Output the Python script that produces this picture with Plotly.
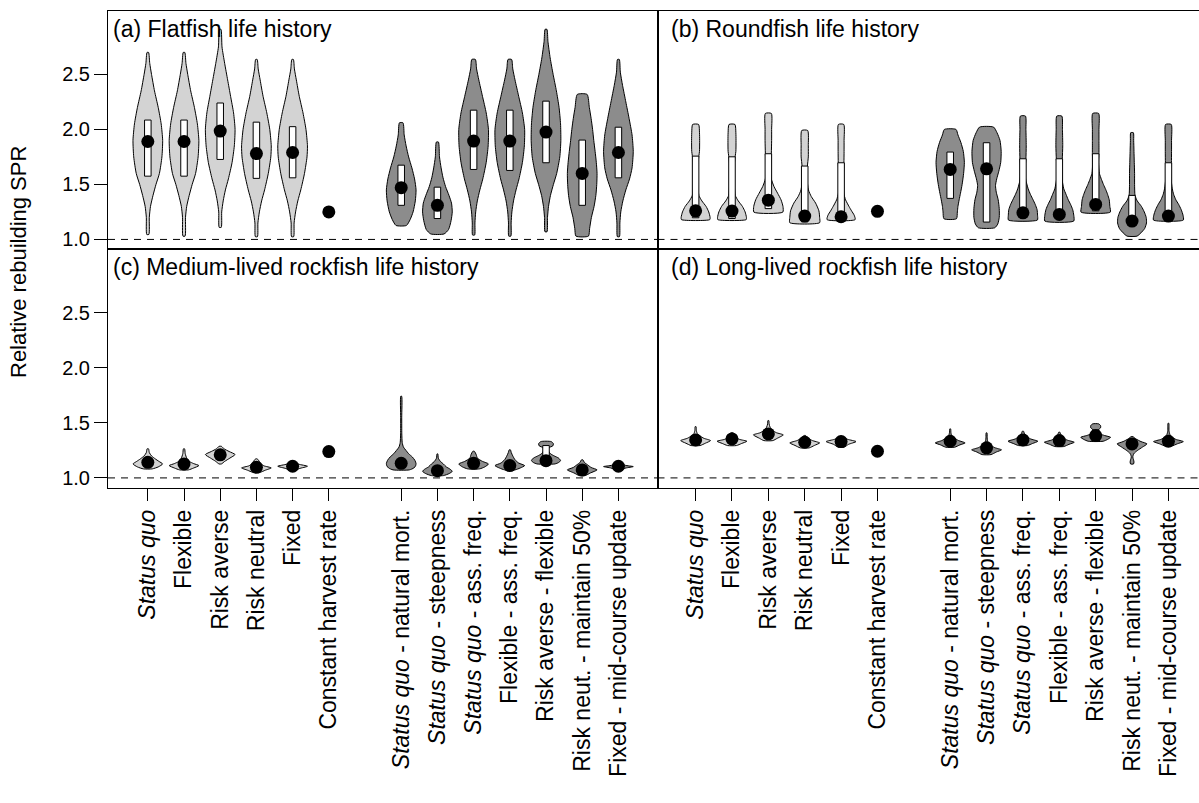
import plotly.graph_objects as go

# ---------------- data ----------------
POSITIONS = [1, 2, 3, 4, 5, 6, 8, 9, 10, 11, 12, 13, 14]
LABELS = ["<i>Status quo</i>", "Flexible", "Risk averse", "Risk neutral", "Fixed",
          "Constant harvest rate", "<i>Status quo</i> - natural mort.",
          "<i>Status quo</i> - steepness", "<i>Status quo</i> - ass. freq.",
          "Flexible - ass. freq.", "Risk averse - flexible",
          "Risk neut. - maintain 50%", "Fixed - mid-course update"]
GROUP = ["light"] * 5 + ["dot"] + ["dark"] * 7
PANEL_TITLES = ["(a) Flatfish life history", "(b) Roundfish life history",
                "(c) Medium-lived rockfish life history", "(d) Long-lived rockfish life history"]
Y_TICKS = [1.0, 1.5, 2.0, 2.5]
Y_TICK_TEXT = ["1.0", "1.5", "2.0", "2.5"]
Y_TITLE = "Relative rebuilding SPR"
REFERENCE_LEVEL = 1.0

# (a) Flatfish
A_MED = [1.89, 1.89, 1.985, 1.78, 1.79, 1.25, 1.47, 1.31, 1.894, 1.894, 1.976, 1.60, 1.79]
A_Q1 = [1.575, 1.575, 1.727, 1.555, 1.56, None, 1.31, 1.19, 1.636, 1.627, 1.697, 1.31, 1.56]
A_Q3 = [2.085, 2.085, 2.24, 2.066, 2.025, None, 1.675, 1.475, 2.175, 2.175, 2.257, 1.903, 2.02]
A_DENS_Y = [
    [1.045, 1.2, 1.3, 1.4, 1.5, 1.6, 1.75, 1.9, 2.05, 2.2, 2.35, 2.5, 2.6, 2.7],
    [1.03, 1.2, 1.3, 1.4, 1.5, 1.6, 1.75, 1.9, 2.05, 2.2, 2.35, 2.5, 2.6, 2.7],
    [1.11, 1.25, 1.35, 1.45, 1.55, 1.7, 1.85, 2.0, 2.15, 2.3, 2.45, 2.6, 2.75, 2.91],
    [1.025, 1.15, 1.25, 1.35, 1.45, 1.6, 1.75, 1.85, 2.0, 2.15, 2.3, 2.45, 2.55, 2.636],
    [1.025, 1.15, 1.25, 1.35, 1.45, 1.6, 1.75, 1.85, 2.0, 2.15, 2.3, 2.45, 2.55, 2.636],
    None,
    [1.127, 1.18, 1.25, 1.35, 1.45, 1.55, 1.65, 1.75, 1.85, 1.95, 2.06],
    [1.05, 1.09, 1.17, 1.25, 1.33, 1.4, 1.48, 1.56, 1.65, 1.75, 1.885],
    [1.04, 1.15, 1.25, 1.35, 1.45, 1.55, 1.7, 1.85, 2.0, 2.15, 2.3, 2.45, 2.55, 2.636],
    [1.03, 1.15, 1.25, 1.35, 1.45, 1.55, 1.7, 1.85, 2.0, 2.15, 2.3, 2.45, 2.55, 2.636],
    [1.07, 1.2, 1.3, 1.4, 1.5, 1.6, 1.75, 1.9, 2.05, 2.2, 2.35, 2.5, 2.65, 2.8, 2.91],
    [1.03, 1.1, 1.2, 1.3, 1.4, 1.5, 1.6, 1.7, 1.8, 1.9, 2.0, 2.1, 2.2, 2.318],
    [1.025, 1.15, 1.25, 1.35, 1.45, 1.55, 1.65, 1.8, 1.95, 2.1, 2.25, 2.4, 2.52, 2.636],
]
A_DENS_W = [
    [0.07, 0.1, 0.18, 0.35, 0.55, 0.78, 0.95, 1.0, 0.9, 0.7, 0.45, 0.25, 0.13, 0.05],
    [0.07, 0.1, 0.18, 0.35, 0.55, 0.78, 0.95, 1.0, 0.9, 0.7, 0.45, 0.25, 0.13, 0.05],
    [0.07, 0.1, 0.2, 0.35, 0.55, 0.8, 0.95, 1.0, 0.9, 0.7, 0.5, 0.3, 0.12, 0.05],
    [0.07, 0.1, 0.2, 0.35, 0.55, 0.8, 0.97, 1.0, 0.9, 0.7, 0.45, 0.25, 0.12, 0.05],
    [0.07, 0.1, 0.2, 0.35, 0.55, 0.8, 0.97, 1.0, 0.9, 0.7, 0.45, 0.25, 0.12, 0.05],
    None,
    [0.35, 0.6, 0.8, 0.95, 1.0, 0.9, 0.72, 0.5, 0.33, 0.2, 0.12],
    [0.45, 0.75, 0.92, 1.0, 0.95, 0.78, 0.55, 0.38, 0.25, 0.14, 0.07],
    [0.07, 0.09, 0.14, 0.25, 0.42, 0.62, 0.85, 0.98, 1.0, 0.85, 0.6, 0.35, 0.2, 0.12],
    [0.07, 0.09, 0.14, 0.25, 0.42, 0.62, 0.85, 0.98, 1.0, 0.85, 0.6, 0.35, 0.2, 0.12],
    [0.07, 0.1, 0.17, 0.3, 0.5, 0.72, 0.93, 1.0, 0.98, 0.88, 0.7, 0.48, 0.28, 0.13, 0.06],
    [0.42, 0.5, 0.62, 0.8, 0.92, 0.98, 1.0, 0.95, 0.87, 0.78, 0.7, 0.6, 0.48, 0.33],
    [0.07, 0.1, 0.16, 0.3, 0.5, 0.75, 0.92, 1.0, 0.92, 0.72, 0.5, 0.28, 0.13, 0.06],
]

# (b) Roundfish
B_MED = [1.26, 1.258, 1.357, 1.212, 1.206, 1.255, 1.636, 1.642, 1.242, 1.227, 1.318, 1.167, 1.212]
B_Q1 = [1.197, 1.19, 1.28, 1.16, 1.18, None, 1.373, 1.158, 1.2, 1.19, 1.26, 1.14, 1.19]
B_Q3 = [1.757, 1.751, 1.779, 1.667, 1.697, None, 1.794, 1.879, 1.733, 1.733, 1.779, 1.40, 1.697]
B_DENS_Y = [
    [1.18, 1.2, 1.25, 1.3, 1.35, 1.4, 1.5, 1.6, 1.7, 1.76, 1.8, 1.9, 1.97, 2.045],
    [1.18, 1.2, 1.25, 1.3, 1.35, 1.4, 1.5, 1.6, 1.7, 1.76, 1.8, 1.9, 1.97, 2.045],
    [1.248, 1.3, 1.36, 1.42, 1.48, 1.55, 1.65, 1.78, 1.9, 2.0, 2.145],
    [1.152, 1.2, 1.26, 1.33, 1.39, 1.45, 1.55, 1.667, 1.75, 1.85, 1.99],
    [1.18, 1.22, 1.26, 1.3, 1.36, 1.42, 1.5, 1.6, 1.697, 1.8, 1.9, 2.045],
    None,
    [1.188, 1.25, 1.3, 1.36, 1.42, 1.5, 1.6, 1.7, 1.8, 1.88, 1.95, 2.0],
    [1.106, 1.14, 1.2, 1.28, 1.36, 1.43, 1.49, 1.55, 1.62, 1.7, 1.8, 1.9, 1.97, 2.021],
    [1.176, 1.22, 1.27, 1.32, 1.36, 1.41, 1.46, 1.55, 1.65, 1.733, 1.85, 2.0, 2.121],
    [1.167, 1.22, 1.27, 1.32, 1.36, 1.41, 1.46, 1.55, 1.65, 1.733, 1.85, 2.0, 2.121],
    [1.248, 1.3, 1.36, 1.41, 1.455, 1.5, 1.545, 1.6, 1.7, 1.779, 1.9, 2.0, 2.145],
    [1.03, 1.06, 1.1, 1.15, 1.2, 1.25, 1.3, 1.35, 1.4, 1.5, 1.6, 1.7, 1.8, 1.9, 1.97],
    [1.176, 1.22, 1.27, 1.32, 1.36, 1.41, 1.46, 1.55, 1.65, 1.697, 1.8, 1.9, 2.045],
]
B_DENS_W = [
    [0.95, 0.97, 0.88, 0.7, 0.42, 0.22, 0.16, 0.15, 0.17, 0.22, 0.26, 0.27, 0.26, 0.2],
    [0.95, 0.97, 0.88, 0.7, 0.42, 0.22, 0.16, 0.15, 0.17, 0.22, 0.26, 0.27, 0.26, 0.2],
    [0.97, 0.98, 0.85, 0.62, 0.38, 0.2, 0.16, 0.2, 0.22, 0.22, 0.2],
    [1.0, 1.0, 0.95, 0.73, 0.44, 0.25, 0.16, 0.18, 0.24, 0.24, 0.2],
    [0.94, 0.88, 0.7, 0.53, 0.3, 0.18, 0.15, 0.16, 0.19, 0.2, 0.2, 0.18],
    None,
    [0.42, 0.48, 0.52, 0.6, 0.69, 0.8, 0.9, 0.95, 0.88, 0.72, 0.52, 0.39],
    [0.55, 0.75, 0.85, 0.85, 0.78, 0.65, 0.6, 0.68, 0.82, 0.95, 0.98, 0.9, 0.7, 0.47],
    [0.97, 0.98, 0.95, 0.82, 0.68, 0.5, 0.35, 0.18, 0.15, 0.2, 0.22, 0.2, 0.17],
    [0.97, 0.97, 0.9, 0.75, 0.6, 0.45, 0.3, 0.18, 0.15, 0.2, 0.23, 0.21, 0.17],
    [0.98, 0.95, 0.91, 0.8, 0.67, 0.52, 0.39, 0.25, 0.2, 0.22, 0.22, 0.22, 0.2],
    [0.33, 0.6, 0.85, 0.97, 0.95, 0.82, 0.63, 0.35, 0.2, 0.17, 0.17, 0.15, 0.13, 0.11, 0.09],
    [1.0, 0.98, 0.86, 0.68, 0.5, 0.35, 0.26, 0.18, 0.16, 0.2, 0.21, 0.21, 0.19],
]

# (c) Medium-lived rockfish
C_MED = [1.142, 1.127, 1.21, 1.096, 1.106, 1.239, 1.133, 1.066, 1.133, 1.112, 1.157, 1.073, 1.106]
C_Q1 = [1.125, 1.11, 1.19, 1.08, 1.095, None, 1.115, 1.05, 1.115, 1.095, 1.14, 1.055, 1.095]
C_Q3 = [1.16, 1.145, 1.23, 1.11, 1.115, None, 1.155, 1.085, 1.15, 1.13, 1.294, 1.09, 1.115]
C_DENS_Y = [
    [1.082, 1.1, 1.127, 1.15, 1.173, 1.2, 1.23, 1.264],
    [1.073, 1.09, 1.112, 1.13, 1.15, 1.18, 1.22, 1.264],
    [1.127, 1.15, 1.18, 1.212, 1.24, 1.265, 1.287],
    [1.051, 1.07, 1.091, 1.11, 1.13, 1.15, 1.173],
    [1.066, 1.085, 1.106, 1.125, 1.14, 1.157],
    None,
    [1.073, 1.09, 1.11, 1.13, 1.16, 1.19, 1.22, 1.25, 1.28, 1.32, 1.4, 1.55, 1.742],
    [1.021, 1.04, 1.06, 1.08, 1.1, 1.127, 1.15, 1.18, 1.218],
    [1.082, 1.1, 1.127, 1.15, 1.18, 1.21, 1.242],
    [1.073, 1.09, 1.112, 1.135, 1.165, 1.2, 1.23, 1.255],
    [1.127, 1.14, 1.157, 1.18, 1.2, 1.22, 1.25, 1.275, 1.29, 1.31, 1.33],
    [1.021, 1.045, 1.073, 1.095, 1.12, 1.14, 1.164],
    [1.073, 1.09, 1.103, 1.115, 1.135, 1.157],
]
C_DENS_W = [
    [0.3, 0.7, 1.0, 0.75, 0.5, 0.25, 0.1, 0.05],
    [0.3, 0.65, 1.0, 0.65, 0.35, 0.18, 0.08, 0.04],
    [0.08, 0.3, 0.65, 1.0, 0.6, 0.25, 0.08],
    [0.25, 0.6, 1.0, 0.5, 0.3, 0.2, 0.05],
    [0.15, 0.45, 1.0, 0.4, 0.2, 0.05],
    None,
    [0.55, 0.85, 0.97, 1.0, 0.92, 0.75, 0.5, 0.32, 0.15, 0.07, 0.04, 0.035, 0.03],
    [0.4, 0.8, 1.0, 0.85, 0.6, 0.4, 0.2, 0.06, 0.03],
    [0.4, 0.75, 1.0, 0.6, 0.25, 0.18, 0.05],
    [0.35, 0.7, 1.0, 0.6, 0.35, 0.2, 0.1, 0.04],
    [0.6, 0.85, 0.98, 0.85, 0.55, 0.3, 0.15, 0.2, 0.45, 0.5, 0.35],
    [0.2, 0.55, 1.0, 0.6, 0.35, 0.15, 0.05],
    [0.15, 0.5, 1.0, 0.45, 0.2, 0.05],
]

# (d) Long-lived rockfish
D_MED = [1.345, 1.354, 1.4, 1.324, 1.33, 1.242, 1.333, 1.273, 1.345, 1.339, 1.385, 1.309, 1.333]
D_Q1 = [1.33, 1.34, 1.385, 1.31, 1.32, None, 1.32, 1.26, 1.33, 1.325, 1.37, 1.295, 1.32]
D_Q3 = [1.36, 1.37, 1.415, 1.34, 1.34, None, 1.35, 1.29, 1.36, 1.355, 1.436, 1.325, 1.345]
D_DENS_Y = [
    [1.294, 1.315, 1.339, 1.36, 1.38, 1.4, 1.43, 1.466],
    [1.294, 1.313, 1.333, 1.35, 1.37, 1.39, 1.409],
    [1.339, 1.36, 1.391, 1.41, 1.43, 1.46, 1.49, 1.521],
    [1.273, 1.295, 1.318, 1.34, 1.36, 1.385],
    [1.279, 1.305, 1.33, 1.35, 1.365, 1.378],
    None,
    [1.279, 1.3, 1.318, 1.34, 1.36, 1.38, 1.41, 1.445],
    [1.212, 1.235, 1.255, 1.275, 1.3, 1.33, 1.37, 1.409],
    [1.294, 1.313, 1.333, 1.355, 1.38, 1.405, 1.424],
    [1.285, 1.305, 1.324, 1.345, 1.37, 1.395, 1.415],
    [1.333, 1.35, 1.369, 1.385, 1.4, 1.42, 1.44, 1.455, 1.475, 1.491],
    [1.127, 1.145, 1.165, 1.19, 1.22, 1.248, 1.28, 1.309, 1.33, 1.355, 1.375],
    [1.288, 1.31, 1.33, 1.35, 1.37, 1.395, 1.43, 1.496],
]
D_DENS_W = [
    [0.3, 0.65, 1.0, 0.55, 0.3, 0.12, 0.05, 0.03],
    [0.3, 0.65, 1.0, 0.5, 0.25, 0.2, 0.08],
    [0.3, 0.6, 1.0, 0.55, 0.3, 0.12, 0.05, 0.03],
    [0.3, 0.65, 1.0, 0.5, 0.25, 0.06],
    [0.2, 0.5, 1.0, 0.45, 0.2, 0.05],
    None,
    [0.3, 0.65, 1.0, 0.55, 0.3, 0.12, 0.05, 0.03],
    [0.3, 0.65, 1.0, 0.55, 0.25, 0.08, 0.04, 0.03],
    [0.3, 0.65, 1.0, 0.5, 0.25, 0.1, 0.04],
    [0.3, 0.65, 1.0, 0.5, 0.25, 0.1, 0.04],
    [0.5, 0.8, 1.0, 0.6, 0.3, 0.17, 0.2, 0.33, 0.33, 0.2],
    [0.1, 0.13, 0.1, 0.05, 0.12, 0.35, 0.7, 1.0, 0.6, 0.25, 0.06],
    [0.2, 0.6, 1.0, 0.5, 0.25, 0.1, 0.04, 0.03],
]

# ---------------- styling ----------------
FONT = "Liberation Sans, Arial, sans-serif"
W, H = 1199, 803
VIOLIN_HALF = 0.41
BOX_HALF = 0.09
FILL = {"light": "#D3D3D3", "dark": "#8C8C8C"}

X_LEFT = [108 / W, 657.5 / W]
X_RIGHT = [657.5 / W, 1.0]
Y_TOP = [1 - 249 / H, 1 - 10.7 / H]
Y_BOT = [1 - 487.5 / H, 1 - 249 / H]
XR_LEFT = [-0.1, 15.08]
XR_RIGHT = [-0.048, 14.841]
YR = [0.913, 3.079]

fig = go.Figure()

panels = [
    ("x", "y", A_MED, A_Q1, A_Q3, A_DENS_Y, A_DENS_W),
    ("x2", "y2", B_MED, B_Q1, B_Q3, B_DENS_Y, B_DENS_W),
    ("x3", "y3", C_MED, C_Q1, C_Q3, C_DENS_Y, C_DENS_W),
    ("x4", "y4", D_MED, D_Q1, D_Q3, D_DENS_Y, D_DENS_W),
]

for xa, ya, med, q1, q3, dy, dw in panels:
    for i, pos in enumerate(POSITIONS):
        if dy[i] is not None:
            ys = dy[i]
            ws = dw[i]
            px = [pos - w * VIOLIN_HALF for w in ws] + [pos + w * VIOLIN_HALF for w in ws[::-1]]
            py = list(ys) + list(ys[::-1])
            fig.add_trace(go.Scatter(
                x=px + [px[0]], y=py + [py[0]], mode="lines", fill="toself",
                fillcolor=FILL[GROUP[i]], line=dict(color="black", width=1, shape="spline", smoothing=0.6),
                xaxis=xa, yaxis=ya, hoverinfo="skip"))
        if q1[i] is not None:
            fig.add_trace(go.Scatter(
                x=[pos - BOX_HALF, pos + BOX_HALF, pos + BOX_HALF, pos - BOX_HALF, pos - BOX_HALF],
                y=[q1[i], q1[i], q3[i], q3[i], q1[i]], mode="lines", fill="toself",
                fillcolor="white", line=dict(color="black", width=1),
                xaxis=xa, yaxis=ya, hoverinfo="skip"))
        fig.add_trace(go.Scatter(
            x=[pos], y=[med[i]], mode="markers",
            marker=dict(color="black", size=13, line=dict(width=0)),
            xaxis=xa, yaxis=ya, hoverinfo="skip"))

axis_common = dict(showline=True, mirror=True, linecolor="black", linewidth=1,
                   showgrid=False, zeroline=False)
yax_lab = dict(tickmode="array", tickvals=Y_TICKS, ticktext=Y_TICK_TEXT, ticks="outside",
               ticklen=13, tickcolor="black", tickfont=dict(family=FONT, size=20, color="black"))
xax_lab = dict(tickmode="array", tickvals=POSITIONS, ticktext=LABELS, ticks="outside",
               ticklen=12, tickcolor="black", tickangle=-90,
               tickfont=dict(family=FONT, size=23, color="black"))

fig.update_layout(
    width=W, height=H, margin=dict(l=0, r=0, t=0, b=0),
    plot_bgcolor="white", paper_bgcolor="white", showlegend=False,
    xaxis=dict(domain=X_LEFT, range=XR_LEFT, anchor="y", showticklabels=False, ticks="", **axis_common),
    yaxis=dict(domain=Y_TOP, range=YR, anchor="x", **yax_lab, **axis_common),
    xaxis2=dict(domain=X_RIGHT, range=XR_RIGHT, anchor="y2", showticklabels=False, ticks="", **axis_common),
    yaxis2=dict(domain=Y_TOP, range=YR, anchor="x2", showticklabels=False, ticks="", **axis_common),
    xaxis3=dict(domain=X_LEFT, range=XR_LEFT, anchor="y3", **xax_lab, **axis_common),
    yaxis3=dict(domain=Y_BOT, range=YR, anchor="x3", **yax_lab, **axis_common),
    xaxis4=dict(domain=X_RIGHT, range=XR_RIGHT, anchor="y4", **xax_lab, **axis_common),
    yaxis4=dict(domain=Y_BOT, range=YR, anchor="x4", showticklabels=False, ticks="", **axis_common),
)

shapes = []
for xa, ya in [("x", "y"), ("x2", "y2"), ("x3", "y3"), ("x4", "y4")]:
    shapes.append(dict(type="line", xref=f"{xa} domain", yref=ya, x0=0, x1=1,
                       y0=REFERENCE_LEVEL, y1=REFERENCE_LEVEL,
                       line=dict(color="black", width=1, dash="7px,6px"), layer="below"))
fig.update_layout(shapes=shapes)

annotations = []
for (xa, ya), title in zip([("x", "y"), ("x2", "y2"), ("x3", "y3"), ("x4", "y4")], PANEL_TITLES):
    annotations.append(dict(text=title, xref=f"{xa} domain", yref=f"{ya} domain",
                            x=0.006 if xa in ("x", "x3") else 0.021, y=0.925,
                            xanchor="left", yanchor="middle", showarrow=False,
                            font=dict(family=FONT, size=23, color="black")))
annotations.append(dict(text=Y_TITLE, xref="paper", yref="paper", x=18 / W, y=1 - 262 / H,
                        xanchor="center", yanchor="middle", textangle=-90, showarrow=False,
                        font=dict(family=FONT, size=22, color="black")))
fig.update_layout(annotations=annotations)

fig.write_html("out.html", config={"displayModeBar": False},
               post_script="document.body.style.margin='0px';")
